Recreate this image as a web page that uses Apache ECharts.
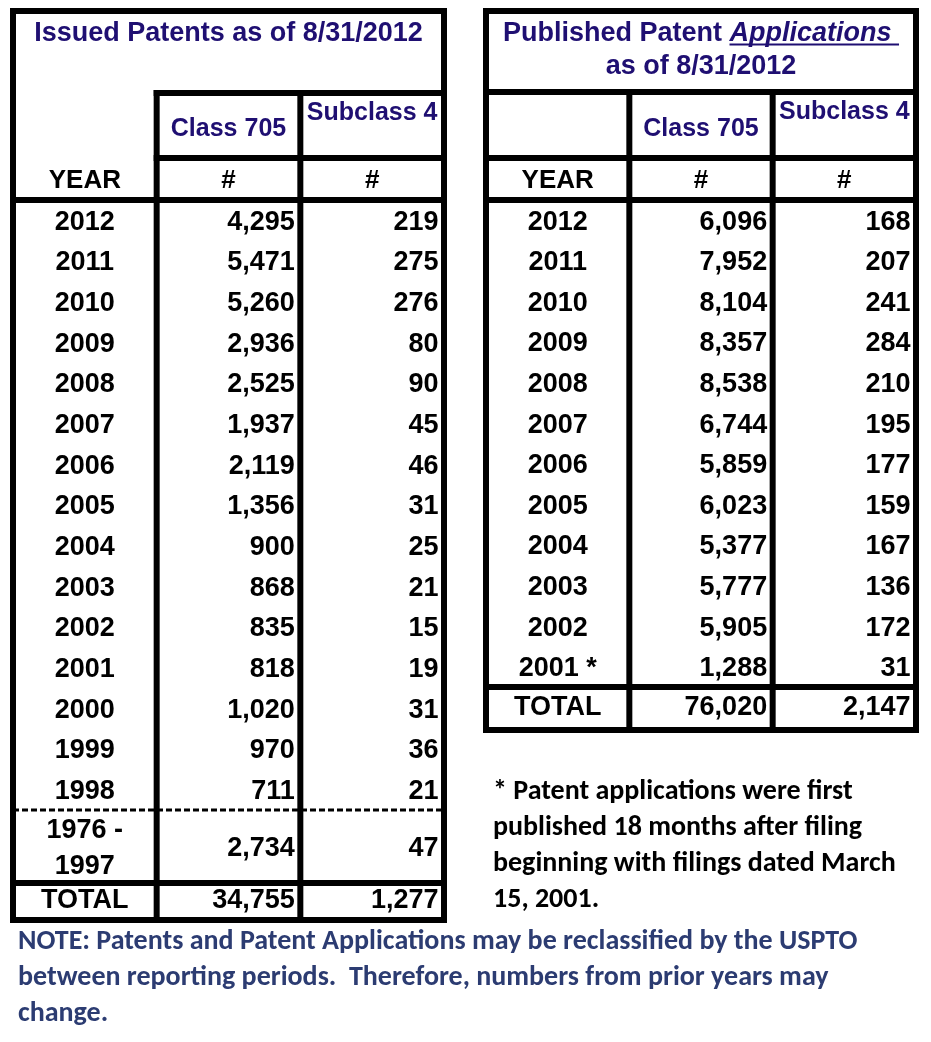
<!DOCTYPE html>
<html><head><meta charset="utf-8">
<script src="https://cdn.jsdelivr.net/npm/echarts@6/dist/echarts.min.js"></script>
<style>html,body{margin:0;padding:0;background:#fff;}#c{width:931px;height:1042px;}</style>
</head><body><div id="c"></div>
<script>
// ---------------- data ----------------
const leftTitle = 'Issued Patents as of 8/31/2012';
const rightTitlePlain = 'Published Patent ';
const rightTitleEm = 'Applications ';
const rightTitleLine2 = 'as of 8/31/2012';
const groupHeaders = ['', 'Class 705', 'Subclass 4'];
const columnHeaders = ['YEAR', '#', '#'];

const issuedYears = ['2012','2011','2010','2009','2008','2007','2006','2005','2004','2003','2002','2001','2000','1999','1998'];
const issuedClass705 = [4295,5471,5260,2936,2525,1937,2119,1356,900,868,835,818,1020,970,711];
const issuedSub4 = [219,275,276,80,90,45,46,31,25,21,15,19,31,36,21];
const issuedEarlyLabel = '1976 -\n1997';
const issuedEarlyClass705 = 2734;
const issuedEarlySub4 = 47;
const totalLabel = 'TOTAL';
const issuedTotalClass705 = 34755;
const issuedTotalSub4 = 1277;

const pubYears = ['2012','2011','2010','2009','2008','2007','2006','2005','2004','2003','2002','2001 *'];
const pubClass705 = [6096,7952,8104,8357,8538,6744,5859,6023,5377,5777,5905,1288];
const pubSub4 = [168,207,241,284,210,195,177,159,167,136,172,31];
const pubTotalClass705 = 76020;
const pubTotalSub4 = 2147;

const footnoteLines = [
  '* Patent applications were first',
  'published 18 months after filing',
  'beginning with filings dated March',
  '15, 2001.'
];
const noteLines = [
  'NOTE: Patents and Patent Applications may be reclassified by the USPTO',
  'between reporting periods.  Therefore, numbers from prior years may',
  'change.'
];

// ---------------- layout ----------------
const LT = {x0:13, x1:444, top:11, titleLine:93, groupLine:158, headLine:200, dashLine:810, totalLine:883, bottom:920};
const RT = {x0:486, x1:916, top:11, titleLine:92, groupLine:158, headLine:200, totalLine:687, bottom:730};
const TABLE_FONT = '"Liberation Sans", Arial, Helvetica, sans-serif';
const NOTE_FONT = 'Carlito, Calibri, Lato, sans-serif';
const INK = '#000000', TITLE_INK = '#1f0f72', NOTE_INK = '#2c3c72';
const RULE = 6, PAD_RIGHT = 5.5, TEXT_DY = 2;

const fmt = v => typeof v === 'number' ? v.toLocaleString('en-US') : v;

const grids = [], xAxes = [], yAxes = [], series = [];
function addSection(box, rowNames, rows, st) {
  const gi = grids.length;
  grids.push({left: box.x0, top: box.y0, width: box.x1 - box.x0, height: box.y1 - box.y0, show: false});
  xAxes.push({type: 'category', gridIndex: gi, data: ['c0', 'c1', 'c2'], show: false});
  yAxes.push({type: 'category', gridIndex: gi, data: rowNames, inverse: true, show: false});
  const data = [], cells = [];
  rows.forEach((row, r) => row.forEach((cell, c) => { data.push([c, r]); cells.push(cell); }));
  series.push({
    type: 'custom', xAxisIndex: gi, yAxisIndex: gi, data: data, encode: {x: 0, y: 1},
    silent: true, animation: false, clip: false,
    renderItem: function (params, api) {
      const cell = cells[params.dataIndex];
      const p = api.coord([api.value(0), api.value(1)]);
      const s = api.size([1, 1]);
      let x = p[0], align = 'center';
      if (cell.align === 'right') { x = p[0] + s[0] / 2 - PAD_RIGHT; align = 'right'; }
      let y = p[1] + (cell.dy || st.dy || 0) + TEXT_DY;
      if (cell.valign === 'top') y = p[1] - s[1] / 2 + st.topOffset + TEXT_DY;
      return {type: 'text', style: {
        text: fmt(cell.text), x: x, y: y, align: align, verticalAlign: 'middle',
        fontFamily: TABLE_FONT, fontWeight: 'bold', fontSize: st.size,
        fill: st.color, lineHeight: st.lineHeight || st.size * 1.2
      }};
    }
  });
}
const C = t => ({text: t, align: 'center'});
const R = t => ({text: t, align: 'right'});

function buildTable(T, years, class705, sub4) {
  addSection({x0: T.x0, x1: T.x1, y0: T.titleLine, y1: T.groupLine}, ['g'],
    [[C(groupHeaders[0]), Object.assign(C(groupHeaders[1]), {dy: 2}), Object.assign(C(groupHeaders[2]), {valign: 'top'})]],
    {size: 25, color: TITLE_INK, topOffset: 18});
  addSection({x0: T.x0, x1: T.x1, y0: T.groupLine, y1: T.headLine}, ['h'],
    [columnHeaders.map(C)], {size: 26, color: INK});
  addSection({x0: T.x0, x1: T.x1, y0: T.headLine, y1: T.dataEnd}, years,
    years.map((y, i) => [C(y), R(class705[i]), R(sub4[i])]), {size: 27, color: INK});
}

// left table
LT.dataEnd = LT.dashLine;
buildTable(LT, issuedYears, issuedClass705, issuedSub4);
addSection({x0: LT.x0, x1: LT.x1, y0: LT.dashLine, y1: LT.totalLine}, ['early'],
  [[C(issuedEarlyLabel), R(issuedEarlyClass705), R(issuedEarlySub4)]], {size: 27, color: INK, lineHeight: 36});
addSection({x0: LT.x0, x1: LT.x1, y0: LT.totalLine, y1: LT.bottom}, ['total'],
  [[C(totalLabel), R(issuedTotalClass705), R(issuedTotalSub4)]], {size: 27, color: INK, dy: -3});
// right table
RT.dataEnd = RT.totalLine;
buildTable(RT, pubYears, pubClass705, pubSub4);
addSection({x0: RT.x0, x1: RT.x1, y0: RT.totalLine, y1: RT.bottom}, ['total'],
  [[C(totalLabel), R(pubTotalClass705), R(pubTotalSub4)]], {size: 27, color: INK, dy: -3});

// ---------------- frame rules ----------------
const g = [];
const hline = (x1, x2, y, w, dash) => g.push({type: 'line', silent: true, shape: {x1: x1, y1: y, x2: x2, y2: y},
  style: {stroke: INK, lineWidth: w || RULE, lineDash: dash || null}});
const vline = (x, y1, y2) => g.push({type: 'line', silent: true, shape: {x1: x, y1: y1, x2: x, y2: y2},
  style: {stroke: INK, lineWidth: RULE}});
function frame(T, fullTitleLine) {
  g.push({type: 'rect', silent: true, shape: {x: T.x0, y: T.top, width: T.x1 - T.x0, height: T.bottom - T.top},
    style: {fill: 'none', stroke: INK, lineWidth: RULE}});
  const cw = (T.x1 - T.x0) / 3;
  const c1 = T.x0 + cw, c2 = T.x0 + 2 * cw;
  const start = fullTitleLine ? T.x0 : c1 - RULE / 2;
  hline(start, T.x1, T.titleLine);
  hline(start, T.x1, T.groupLine);
  hline(T.x0, T.x1, T.headLine);
  hline(T.x0, T.x1, T.totalLine);
  vline(c1, T.titleLine - RULE / 2, T.bottom);
  vline(c2, T.titleLine, T.bottom);
}
frame(LT, false);
hline(LT.x0, LT.x1, LT.dashLine, 3, [6, 3]);
frame(RT, true);

// titles
g.push({type: 'text', silent: true, style: {text: leftTitle, x: (LT.x0 + LT.x1) / 2, y: 32 + TEXT_DY, align: 'center', verticalAlign: 'middle',
  fontFamily: TABLE_FONT, fontWeight: 'bold', fontSize: 27, fill: TITLE_INK}});
const rcx = (RT.x0 + RT.x1) / 2;
g.push({type: 'text', silent: true, style: {
  text: '{a|' + rightTitlePlain + '}{b|' + rightTitleEm + '}', x: rcx, y: 31.5 + TEXT_DY, align: 'center', verticalAlign: 'middle',
  rich: {
    a: {fontFamily: TABLE_FONT, fontWeight: 'bold', fontSize: 27, fill: TITLE_INK, color: TITLE_INK},
    b: {fontFamily: TABLE_FONT, fontWeight: 'bold', fontStyle: 'italic', fontSize: 27, fill: TITLE_INK, color: TITLE_INK}
  }}});
(function () {
  const ctx = document.createElement('canvas').getContext('2d');
  ctx.font = 'bold 27px ' + TABLE_FONT;
  const wa = ctx.measureText(rightTitlePlain).width;
  ctx.font = 'italic bold 27px ' + TABLE_FONT;
  const wb = ctx.measureText(rightTitleEm).width;
  const x0 = rcx - (wa + wb) / 2 + wa;
  g.push({type: 'line', silent: true, shape: {x1: x0, y1: 44.5, x2: x0 + wb, y2: 44.5},
    style: {stroke: TITLE_INK, lineWidth: 2.2}});
})();
g.push({type: 'text', silent: true, style: {text: rightTitleLine2, x: rcx, y: 65 + TEXT_DY, align: 'center', verticalAlign: 'middle',
  fontFamily: TABLE_FONT, fontWeight: 'bold', fontSize: 27, fill: TITLE_INK}});

// notes
footnoteLines.forEach((t, i) => g.push({type: 'text', silent: true, style: {text: t, x: 493, y: 792 + 36 * i,
  align: 'left', verticalAlign: 'middle', fontFamily: NOTE_FONT, fontWeight: 'bold', fontSize: 28, fill: INK}}));
noteLines.forEach((t, i) => g.push({type: 'text', silent: true, style: {text: t, x: 18, y: 942 + 36 * i,
  align: 'left', verticalAlign: 'middle', fontFamily: NOTE_FONT, fontWeight: 'bold', fontSize: 28, fill: NOTE_INK}}));

const chart = echarts.init(document.getElementById('c'), null, {renderer: 'canvas', width: 931, height: 1042});
chart.setOption({
  animation: false,
  backgroundColor: '#ffffff',
  grid: grids, xAxis: xAxes, yAxis: yAxes, series: series,
  graphic: {elements: g}
});
</script></body></html>
